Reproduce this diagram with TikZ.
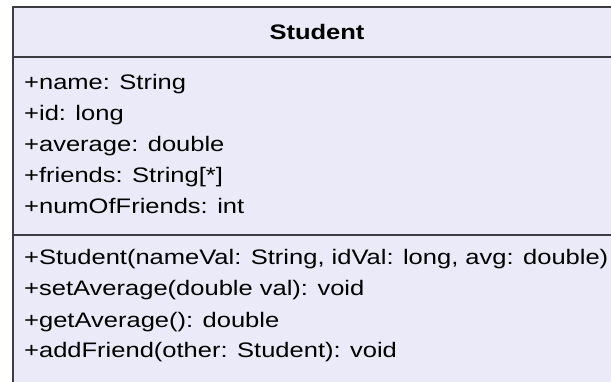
\documentclass[tikz,border=0pt]{standalone}
\usepackage{fontspec}
\newfontfamily\umlfont{Liberation Sans}[FakeStretch=1.215]
\definecolor{classfill}{HTML}{EAEAF8}
\definecolor{classline}{HTML}{3C3C44}
\begin{document}
\begin{tikzpicture}[x=1pt,y=-1pt,
  member/.style={anchor=base west,inner sep=0pt,font=\umlfont\fontsize{21}{25}\selectfont},
  title/.style={anchor=base,inner sep=0pt,font=\umlfont\bfseries\fontsize{21}{25}\selectfont},
  sep/.style={draw=classline,line width=2pt}]
  % canvas
  \useasboundingbox (0,0) rectangle (611,382);
  \fill[white] (0,0) rectangle (611,382);
  % class box (runs past the right and bottom edges)
  \clip (0,0) rectangle (611,382);
  \filldraw[fill=classfill,draw=classline,line width=2pt] (13,7) rectangle (621,400);
  \draw[sep] (13,57) -- (621,57);
  \draw[sep] (13,235.5) -- (621,235.5);
  % name compartment
  \node[title] (cls) at (317,40) {Student};
  % attributes
  \node[member] (a1) at (24,90)  {+name: String};
  \node[member] (a2) at (24,121) {+id: long};
  \node[member] (a3) at (24,152) {+average: double};
  \node[member] (a4) at (24,183) {+friends: String[*]};
  \node[member] (a5) at (24,214) {+numOfFriends: int};
  % operations
  \node[member] (o1) at (24,265) {+Student(nameVal: String, idVal: long, avg: double)};
  \node[member] (o2) at (24,296) {+setAverage(double val): void};
  \node[member] (o3) at (24,327) {+getAverage(): double};
  \node[member] (o4) at (24,358) {+addFriend(other: Student): void};
\end{tikzpicture}
\end{document}
